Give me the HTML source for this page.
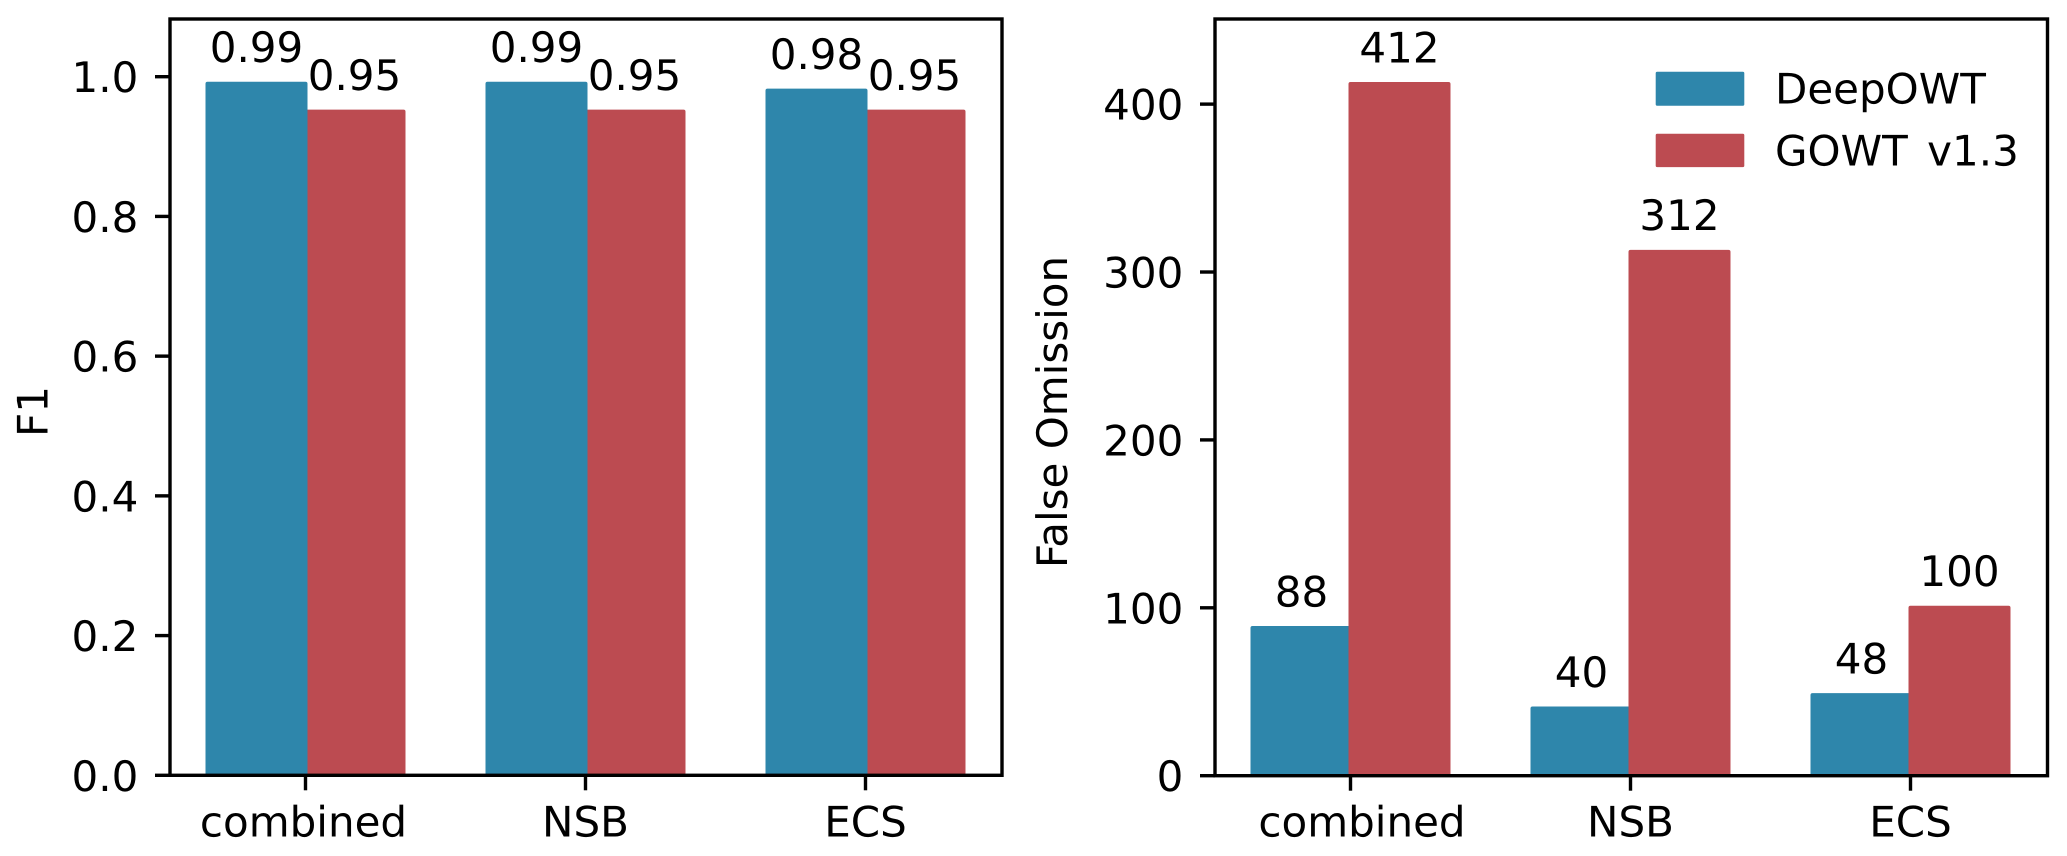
<!DOCTYPE html>
<html lang="en">
<head>
<meta charset="utf-8">
<title>DeepOWT vs GOWT v1.3</title>
<style>
  html, body { margin: 0; padding: 0; background: #fff; }
  svg { display: block; }
  text { font-family: "DejaVu Sans", "Liberation Sans", sans-serif; font-size: 42px; fill: #000; text-rendering: geometricPrecision; }
</style>
</head>
<body>
<svg id="figure" xmlns="http://www.w3.org/2000/svg" width="2067" height="856" viewBox="0 0 2067 856">
  <rect x="0" y="0" width="2067" height="856" fill="#ffffff"/>
  <g id="f1-panel"></g>
  <g id="omission-panel"></g>
  <text transform="translate(47.5 411.5) rotate(-90)" text-anchor="middle">F1</text>
  <text transform="translate(1067 412) rotate(-90)" text-anchor="middle">False Omission</text>
  <g>
    <rect x="1655.7" y="71.7" width="88.6" height="34" rx="1.5" fill="#2E86AB"/>
    <text x="1775" y="103.3">DeepOWT</text>
    <rect x="1655.7" y="133.7" width="88.6" height="33.4" rx="1.5" fill="#BC4B51"/>
    <text x="1775" y="165.3" word-spacing="6">GOWT v1.3</text>
  </g>
</svg>
<script>
const categories = ['combined', 'NSB', 'ECS'];
const seriesNames = ['DeepOWT', 'GOWT v1.3'];

const f1DeepOWT = [0.99, 0.99, 0.98];
const f1GOWT = [0.95, 0.95, 0.95];
const f1TickLabels = ['0.0', '0.2', '0.4', '0.6', '0.8', '1.0'];
const f1BarLabelsDeepOWT = ['0.99', '0.99', '0.98'];
const f1BarLabelsGOWT = ['0.95', '0.95', '0.95'];

const omissionDeepOWT = [88, 40, 48];
const omissionGOWT = [412, 312, 100];
const omissionTickLabels = ['0', '100', '200', '300', '400'];
const omissionBarLabelsDeepOWT = ['88', '40', '48'];
const omissionBarLabelsGOWT = ['412', '312', '100'];

const SVG_NS = 'http://www.w3.org/2000/svg';
const BLUE = '#2E86AB';
const RED = '#BC4B51';
const BAR_HALF = 98;
const EDGE = 2;
const LABEL_CENTER = 49;
const LINE_WIDTH = 3.4;

function linear(d0, d1, r0, r1) {
  return function (v) { return r0 + (v - d0) * (r1 - r0) / (d1 - d0); };
}

function drawBars(layer, panelKey, seriesKey, values, side, color, x, y) {
  values.forEach(function (v, i) {
    const cx = x(i);
    const top = y(v);
    const left = side < 0 ? cx - BAR_HALF : cx;
    const bar = document.createElementNS(SVG_NS, 'rect');
    
    
    bar.setAttribute('x', left);
    bar.setAttribute('y', top);
    bar.setAttribute('width', BAR_HALF);
    bar.setAttribute('height', Math.max(0, y(0) - top - EDGE));
    bar.setAttribute('fill', color);
    bar.setAttribute('stroke', color);
    bar.setAttribute('stroke-width', EDGE * 2);
    bar.setAttribute('stroke-linejoin', 'round');
    layer.appendChild(bar);
  });
}

function drawBarLabels(layer, panelKey, seriesKey, values, labels, side, x, y) {
  values.forEach(function (v, i) {
    const t = document.createElementNS(SVG_NS, 'text');
    
    
    t.setAttribute('x', x(i) + side * LABEL_CENTER);
    t.setAttribute('y', y(v) - 21.7);
    t.setAttribute('text-anchor', 'middle');
    t.textContent = labels[i];
    layer.appendChild(t);
  });
}

function drawTickLine(layer, name, x1, y1, x2, y2) {
  const ln = document.createElementNS(SVG_NS, 'line');
  
  
  ln.setAttribute('x1', x1);
  ln.setAttribute('y1', y1);
  ln.setAttribute('x2', x2);
  ln.setAttribute('y2', y2);
  ln.setAttribute('stroke', '#000');
  ln.setAttribute('stroke-width', LINE_WIDTH);
  layer.appendChild(ln);
}

function drawPanel(cfg) {
  const layer = document.getElementById(cfg.id);
  const x = function (i) { return cfg.firstTick + cfg.step * i; };
  const y = linear(0, cfg.yMax, cfg.bottom, cfg.top);

  // draw order differs per panel: the later series overlaps at the shared edge
  cfg.order.forEach(function (s) {
    if (s === 0) drawBars(layer, cfg.key, 'deepowt', cfg.a, -1, BLUE, x, y);
    else drawBars(layer, cfg.key, 'gowt', cfg.b, 1, RED, x, y);
  });
  drawBarLabels(layer, cfg.key, 'deepowt', cfg.a, cfg.aLabels, -1, x, y);
  drawBarLabels(layer, cfg.key, 'gowt', cfg.b, cfg.bLabels, 1, x, y);

  cfg.tickLabels.forEach(function (label) {
    const v = parseFloat(label);
    drawTickLine(layer, 'y-tick-mark-' + cfg.key + '-' + label, cfg.left - 15, y(v), cfg.left, y(v));
    const t = document.createElementNS(SVG_NS, 'text');
    
    
    t.setAttribute('x', cfg.left - 31.7);
    t.setAttribute('y', y(v) + 15.5);
    t.setAttribute('text-anchor', 'end');
    t.textContent = label;
    layer.appendChild(t);
  });

  categories.forEach(function (c, i) {
    drawTickLine(layer, 'x-tick-mark-' + cfg.key + '-' + c.toLowerCase(), x(i), cfg.bottom, x(i), cfg.bottom + 15);
    const t = document.createElementNS(SVG_NS, 'text');
    
    
    t.setAttribute('x', x(i) + cfg.labelNudge[i]);
    t.setAttribute('y', 836.7);
    t.setAttribute('text-anchor', 'middle');
    t.textContent = c;
    layer.appendChild(t);
  });

  const frame = document.createElementNS(SVG_NS, 'rect');
  
  
  frame.setAttribute('x', cfg.left);
  frame.setAttribute('y', cfg.top);
  frame.setAttribute('width', cfg.right - cfg.left);
  frame.setAttribute('height', cfg.bottom - cfg.top);
  frame.setAttribute('fill', 'none');
  frame.setAttribute('stroke', '#000');
  frame.setAttribute('stroke-width', LINE_WIDTH);
  layer.appendChild(frame);
}

drawPanel({
  id: 'f1-panel', key: 'f1',
  left: 170, right: 1002, top: 19, bottom: 775.3, yMax: 1.0826,
  firstTick: 305.5, step: 280, labelNudge: [-2, 0, 0],
  a: f1DeepOWT, b: f1GOWT, aLabels: f1BarLabelsDeepOWT, bLabels: f1BarLabelsGOWT,
  tickLabels: f1TickLabels, order: [1, 0]
});

drawPanel({
  id: 'omission-panel', key: 'omission',
  left: 1215, right: 2047.5, top: 19, bottom: 775.7, yMax: 450.7,
  firstTick: 1350.5, step: 280, labelNudge: [11.5, 0, 0],
  a: omissionDeepOWT, b: omissionGOWT, aLabels: omissionBarLabelsDeepOWT, bLabels: omissionBarLabelsGOWT,
  tickLabels: omissionTickLabels, order: [0, 1]
});
</script>
</body>
</html>
